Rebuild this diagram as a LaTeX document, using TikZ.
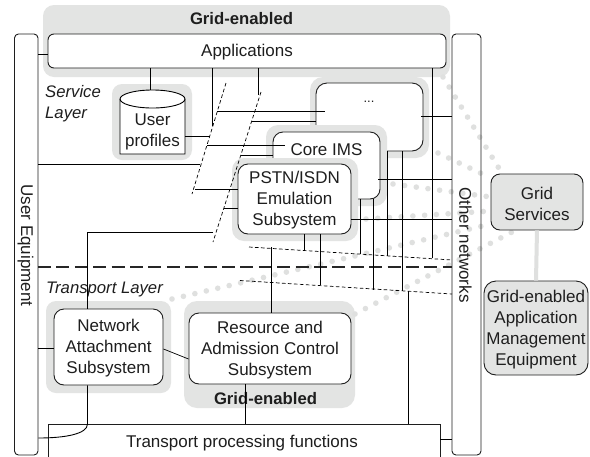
\documentclass[tikz,border=0pt]{standalone}
\usepackage{fontspec}
\setmainfont{Liberation Sans}
\usetikzlibrary{calc}
\definecolor{halo}{HTML}{E3E4E3}
\definecolor{dotc}{HTML}{DFE0DF}
\definecolor{ink}{HTML}{1E1E1E}
\definecolor{gbox}{HTML}{E3E4E3}
\tikzset{
  txt/.style={font=\fontsize{17}{21}\selectfont,text=ink,align=center,inner sep=0pt},
  itxt/.style={txt,font=\fontsize{16.7}{20.7}\selectfont\itshape,anchor=west,align=left},
  btxt/.style={txt,font=\fontsize{16.7}{20.7}\selectfont\bfseries},
  boxn/.style={draw=ink,line width=0.9pt,fill=white,rounded corners=#1,inner sep=0pt},
  boxn/.default=9pt,
  halon/.style={fill=halo,rounded corners=#1,inner sep=0pt},
  halon/.default=10pt,
  gboxn/.style={boxn=#1,fill=gbox},
  conn/.style={draw=black,line width=0.9pt},
  tdash/.style={draw=black,line width=0.7pt,dash pattern=on 3.6pt off 2.4pt},
  ldash/.style={draw=black!85,line width=1.5pt,dash pattern=on 13pt off 5.4pt},
  dots/.style={draw=dotc,line width=5.6pt,line cap=round,dash pattern=on 0pt off 11.75pt},
  bridge/.style={draw=dotc,line width=4pt}
}
\newcommand{\bx}[7]{\node[#5,minimum width={(#3)-(#1)},minimum height={(#4)-(#2)}] (#6) at ({((#1)+(#3))/2},{((#2)+(#4))/2}) {};
  \node[txt] (#6t) at ($(#6.center)+(0,1.5)$) {#7};}
\newcommand{\hl}[5]{\node[#5] at ({((#1)+(#3))/2},{((#2)+(#4))/2}) [minimum width={(#3)-(#1)},minimum height={(#4)-(#2)}] {};}
\begin{document}
\begin{tikzpicture}[x=1pt,y=-1pt]
\useasboundingbox (0,0) rectangle (590,456);
\fill[white] (0,0) rectangle (590,456);
% halos
\node[halon=11pt,minimum width=407,minimum height=72] (gridtop) at (246.5,41) {};
\node[halon,minimum width=80,minimum height=76] (hprof) at (152,122) {};
\node[halon,minimum width=125,minimum height=92] (hnas) at (108.5,347) {};
\node[halon=13pt,minimum width=171,minimum height=107] (hres) at (269.5,354.5) {};
\node[halon=13pt,minimum width=119,minimum height=81] (hdots) at (369.5,117.5) {};
% dotted links to Grid Services
\coordinate (da1) at (443,77);
\coordinate (da2) at (500,170);
\coordinate (db1) at (438,153);
\coordinate (db2) at (491,178);
\coordinate (dc1) at (393,184);
\coordinate (dc2) at (491,197);
\coordinate (dd1) at (366,219);
\coordinate (dd2) at (491,211);
\coordinate (de1) at (172,299);
\coordinate (de2) at (491,224);
\coordinate (df1) at (355,314);
\coordinate (df2) at (514,231);
\draw[dots] (da1) -- (da2);
\draw[dots] (db1) -- (db2);
\draw[dots] (dc1) -- (dc2);
\draw[dots] (dd1) -- (dd2);
\draw[dots] (de1) -- (de2);
\draw[dots] (df1) -- (df2);
% boxes
\bx{48}{34}{446}{68}{boxn=6pt}{apps}{Applications}
\bx{14.5}{34}{38}{455}{boxn=4pt,fill=none}{ue}{}
\bx{452}{34}{481}{455}{boxn=4pt,fill=none}{on}{}
\bx{316}{83}{423}{151}{boxn=11pt}{more}{}
\node[txt,font=\fontsize{13}{13}\selectfont] (moredots) at (369,102) {...};
\node[halon=12pt,minimum width=121,minimum height=81] (hcore) at (326.5,165.5) {};
\bx{273}{132}{380}{199}{boxn=10pt}{core}{}
\node[txt] (coret) at (326.5,149.5) {Core IMS};
\node[halon=12pt,minimum width=126,minimum height=83] (hpstn) at (295,199.5) {};
\bx{238}{164}{351}{234}{boxn=10pt}{pstn}{PSTN/ISDN\\Emulation\\Subsystem}
\bx{54}{309}{163}{385}{boxn=10pt}{nas}{Network\\Attachment\\Subsystem}
\bx{189}{313}{351}{384}{boxn=10pt}{res}{Resource and\\Admission Control\\Subsystem}
\bx{48.5}{424}{440}{460}{boxn=0pt}{trans}{}
\node[txt] (transt) at (242,443.5) {Transport processing functions};
\bx{491}{174}{583}{230}{gboxn=9pt}{gs}{Grid\\Services}
\bx{484}{281}{588}{375}{gboxn=12pt}{gaem}{Grid-enabled\\Application\\Management\\Equipment}
\draw[bridge] (gs.south) -- (gaem.north);
% user profiles cylinder
\node[inner sep=0pt,minimum width=65,minimum height=55] (prof) at (152.5,126.5) {};
\draw[conn,fill=white] (120,99) arc[start angle=180,end angle=0,x radius=32.5,y radius=-9] -- (185,154) -- (120,154) -- cycle;
\draw[conn] (120,99) arc[start angle=180,end angle=360,x radius=32.5,y radius=-9];
\node[txt] (proft) at (152.5,131.5) {User\\profiles};
% labels
\node[btxt] (tgrid) at (241.5,19) {Grid-enabled};
\node[btxt] (bgrid) at (265.5,398.5) {Grid-enabled};
\node[itxt] (sl) at (45,104) {Service\\Layer};
\node[itxt] (tl) at (46,289) {Transport Layer};
\node[txt,rotate=-90] (uet) at (25.5,245.5) {User Equipment};
\node[txt,rotate=-90] (ont) at (465.5,245) {Other networks};
% free ends
\coordinate (s1a) at (226,83);  \coordinate (s1b) at (192,194);
\coordinate (s2a) at (261,92);  \coordinate (s2b) at (213,242);
\coordinate (t1a) at (249,247); \coordinate (t1b) at (452,260);
\coordinate (t2a) at (240,280.5); \coordinate (t2b) at (452,294);
\coordinate (ld) at (38,267);
\draw[tdash] (s1a) -- (s1b);
\draw[tdash] (s2a) -- (s2b);
\draw[tdash] (t1a) -- (t1b);
\draw[tdash] (t2a) -- (t2b);
\draw[ldash] (ld) -- (ld -| on.west);
% connectors
\draw[conn] (apps.west |- 0,54) -- (ue.east |- 0,54);
\draw[conn] (apps.south -| 150,0) -- (150,90);
\draw[conn] (apps.south -| 212,0) -- (212,126);
\draw[conn] (apps.south -| 258,0) -- (258,95);
\draw[conn] (apps.south -| 432,0) -- (432,258);
\draw[conn] (prof.east |- 0,136) -- (210,136);
\draw[conn] (217,111) -- (325,111);
\draw[conn] (252,121) -- (316,121);
\draw[conn] (207,145) -- (285,145);
\draw[conn] (241,155) -- (273,155);
\draw[conn] (ue.east |- 0,164) -- (200,164);
\draw[conn] (195,189) -- (pstn.west |- 0,189);
\draw[conn] (224,208) -- (pstn.west |- 0,208);
\draw[conn] (213,232) -- (87,232) -- (nas.north -| 87,0);
\draw[conn] (421,116) -- (on.west |- 0,116);
\draw[conn] (378,179) -- (on.west |- 0,179);
\draw[conn] (pstn.east |- 0,219) -- (on.west |- 0,219);
\draw[conn] (271.5,247) -- (res.north -| 271.5,0);
\draw[conn] (pstn.south -| 304.5,0) -- (304.5,251);
\draw[conn] (pstn.south -| 320.5,0) -- (320.5,285);
\draw[conn] (core.south -| 360.5,0) -- (360.5,254);
\draw[conn] (core.south -| 373.5,0) -- (373.5,290);
\draw[conn] (more.south -| 387.5,0) -- (387.5,256);
\draw[conn] (more.south -| 402.5,0) -- (402.5,291);
\draw[conn,line width=1.2pt] (408.5,291) -- (trans.north -| 408.5,0);
\draw[conn] (ue.east |- 0,348) -- (nas.west |- 0,348);
\draw[conn,line width=0.7pt] (nas.east |- 0,349) -- (res.west |- 0,359);
\draw[conn] (res.south -| 245.5,0) -- (trans.north -| 245.5,0);
\draw[conn] (nas.south -| 87.5,0) -- (87.5,424) .. controls (87.5,434) and (65,438) .. (ue.east |- 0,438);
\draw[conn] (trans.east |- 0,439) -- (on.west |- 0,439);
\end{tikzpicture}
\end{document}
